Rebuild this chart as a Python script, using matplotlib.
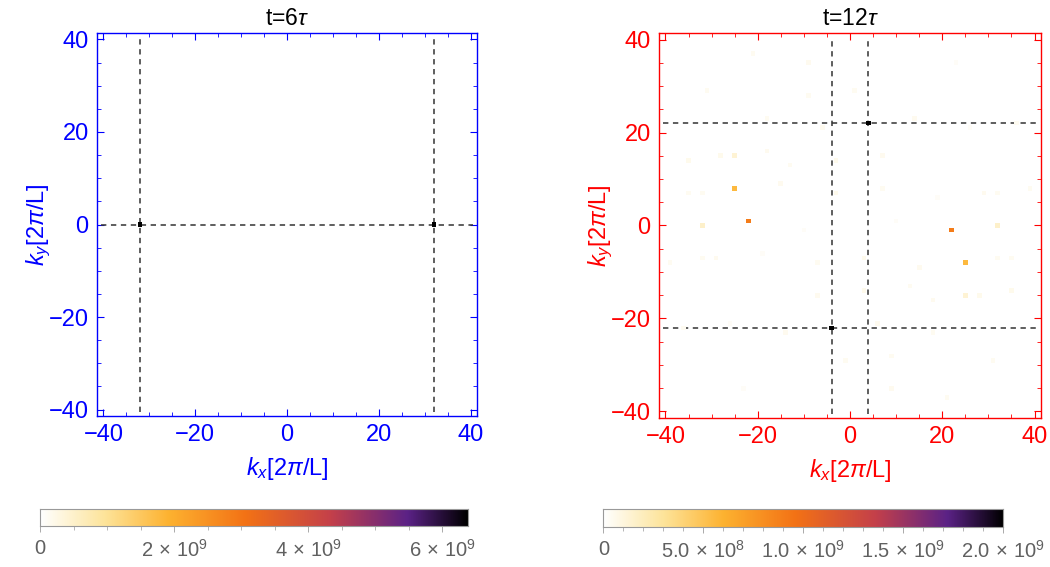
import numpy as np
import matplotlib.pyplot as plt
from matplotlib.colors import LinearSegmentedColormap
from matplotlib.ticker import MultipleLocator, FuncFormatter

plt.rcParams['font.family'] = ['Liberation Sans', 'DejaVu Sans']
plt.rcParams['mathtext.fontset'] = 'custom'
plt.rcParams['mathtext.rm'] = 'Liberation Sans'
plt.rcParams['mathtext.it'] = 'Liberation Sans:italic'

# spectrum at t = 6 tau : two peaks on the kx axis
kx_6 = [-32, 32]
ky_6 = [0, 0]
val_6 = [6.38e9, 6.38e9]
vmax_6 = 6.38e9

# spectrum at t = 12 tau
kx_12 = [4, -4, -22, 22, -25, 25, -32, 32, -25, 25,
         -35, 35, -28, 28, -18, 18, -13, 13, -15, 15,
         -35, 35, -32, 32, -29, 29, -32, 32, -39, 39,
         -19, 19, -10, 10, -7, 7, -7, 7, -3, 3,
         -3, 3, -6, 6, -18, 18, -14, 14, -1, 1,
         -9, 9, -9, 9, -21, 21, -31, 31, -36, 36, -26, 26, -23, 23]
ky_12 = [22, -22, 1, -1, 8, -8, 0, 0, 15, -15,
         14, -14, 15, -15, 16, -16, 13, -13, 9, -9,
         7, -7, 7, -7, -7, 7, -7, 7, -8, 8,
         -6, 6, -1, 1, -8, 8, -15, 15, 14, -14,
         7, -7, 21, -21, 23, -23, -23, 23, -29, 29,
         28, -28, 35, -35, 37, -37, 29, -29, -22, 22, -21, 21, -35, 35]
val_12 = [2.0e9, 2.0e9, 0.9e9, 0.9e9, 5.6e8, 5.6e8, 1.6e8, 1.6e8, 1.3e8, 1.3e8,
          6e7, 6e7, 6e7, 6e7, 5e7, 5e7, 4e7, 4e7, 5e7, 5e7,
          4e7, 4e7, 4e7, 4e7, 5e7, 5e7, 4e7, 4e7, 4e7, 4e7,
          3e7, 3e7, 3e7, 3e7, 4e7, 4e7, 5e7, 5e7, 6e7, 6e7,
          6e7, 6e7, 5e7, 5e7, 4e7, 4e7, 5e7, 5e7, 4e7, 4e7,
          4e7, 4e7, 5e7, 5e7, 4e7, 4e7, 4e7, 4e7, 4e7, 4e7, 3e7, 3e7, 3e7, 3e7]
vmax_12 = 2.0e9

# dashed guide lines
vlines_6, hlines_6 = [-32, 32], [0]
vlines_12, hlines_12 = [-4, 4], [-22, 22]

N = 40  # k runs from -N to N
sunset = LinearSegmentedColormap.from_list('sunset_r', [
    (0.0, '#ffffff'), (0.15, '#fde49a'), (0.3, '#fdb230'),
    (0.48, '#f37215'), (0.68, '#c4404a'), (0.86, '#5b2286'),
    (1.0, '#000000')])


def grid(kx, ky, val):
    g = np.zeros((2 * N + 1, 2 * N + 1))
    for x, y, v in zip(kx, ky, val):
        g[y + N, x + N] = v
    return np.ma.masked_equal(g, 0)


def panel(ax, data, vmax, color, title, vl, hl):
    # empty cells are masked so the peaks sit on top of the dashed lines
    ax.imshow(data, origin='lower', cmap=sunset, vmin=0, vmax=vmax,
              extent=(-N - 0.5, N + 0.5, -N - 0.5, N + 0.5),
              interpolation='nearest', aspect='auto', zorder=3)
    for x in vl:
        ax.plot([x, x], [-N - 0.5, N + 0.5], ls=(0, (3.5, 3)), color='#333333', lw=1.1, zorder=2)
    for y in hl:
        ax.plot([-N - 0.5, N + 0.5], [y, y], ls=(0, (3.5, 3)), color='#333333', lw=1.1, zorder=2)
    ax.set_xlim(-41.4, 41.4)
    ax.set_ylim(-41.4, 41.4)
    for s in ax.spines.values():
        s.set_color(color)
        s.set_linewidth(1.0)
    ax.xaxis.set_major_locator(MultipleLocator(20))
    ax.yaxis.set_major_locator(MultipleLocator(20))
    ax.xaxis.set_minor_locator(MultipleLocator(5))
    ax.yaxis.set_minor_locator(MultipleLocator(5))
    ax.tick_params(which='both', direction='in', top=True, right=True,
                   colors=color, labelsize=17, pad=6)
    ax.tick_params(which='major', length=5, width=0.8)
    ax.tick_params(which='minor', length=3, width=0.6)
    ax.xaxis.set_major_formatter(FuncFormatter(lambda v, p: f'{v:.0f}'.replace('-', '\u2212')))
    ax.yaxis.set_major_formatter(FuncFormatter(lambda v, p: f'{v:.0f}'.replace('-', '\u2212')))
    ax.set_xlabel(r'$k_x$[2$\pi$/L]', color=color, fontsize=17, labelpad=6)
    ax.set_ylabel(r'$k_y$[2$\pi$/L]', color=color, fontsize=17, labelpad=-3)
    ax.set_title(r't=6$\tau$' if title == 6 else r't=12$\tau$', fontsize=16.5, pad=6)


def cbar(cax, vmax, major, minor, fmt):
    cax.imshow(np.linspace(0, 1, 256)[None, :], cmap=sunset, aspect='auto',
               extent=(0, vmax, 0, 1))
    cax.set_xlim(0, vmax)
    cax.set_yticks([])
    for s in cax.spines.values():
        s.set_color('#999999')
        s.set_linewidth(0.8)
    cax.xaxis.set_major_locator(MultipleLocator(major))
    cax.xaxis.set_minor_locator(MultipleLocator(minor))
    cax.xaxis.set_major_formatter(FuncFormatter(fmt))
    cax.tick_params(which='both', direction='out', colors='#aaaaaa',
                    labelcolor='#606060', labelsize=14.5, pad=5)
    cax.tick_params(which='major', length=4, width=0.7)
    cax.tick_params(which='minor', length=3, width=0.6)


def fmt_left(v, p):
    if v == 0:
        return '0'
    return r'%d$\,\times\,$10$^{9}$' % round(v / 1e9)


def fmt_right(v, p):
    if v == 0:
        return '0'
    if v < 1e9:
        return r'%.1f$\,\times\,$10$^{8}$' % (v / 1e8)
    return r'%.1f$\,\times\,$10$^{9}$' % (v / 1e9)


fig = plt.figure(figsize=(10.5, 5.67), dpi=100)
ax1 = fig.add_axes([0.0924, 0.2663, 0.362, 0.6755])
ax2 = fig.add_axes([0.6276, 0.2628, 0.3638, 0.679])
cax1 = fig.add_axes([0.0381, 0.0723, 0.4076, 0.0307])
cax2 = fig.add_axes([0.5746, 0.0705, 0.381, 0.0317])

panel(ax1, grid(kx_6, ky_6, val_6), vmax_6, '#0000ff', 6, vlines_6, hlines_6)
panel(ax2, grid(kx_12, ky_12, val_12), vmax_12, '#ff0000', 12, vlines_12, hlines_12)
cbar(cax1, vmax_6, 2e9, 5e8, fmt_left)
cbar(cax2, vmax_12, 5e8, 1e8, fmt_right)

fig.savefig('out.png', dpi=100)
